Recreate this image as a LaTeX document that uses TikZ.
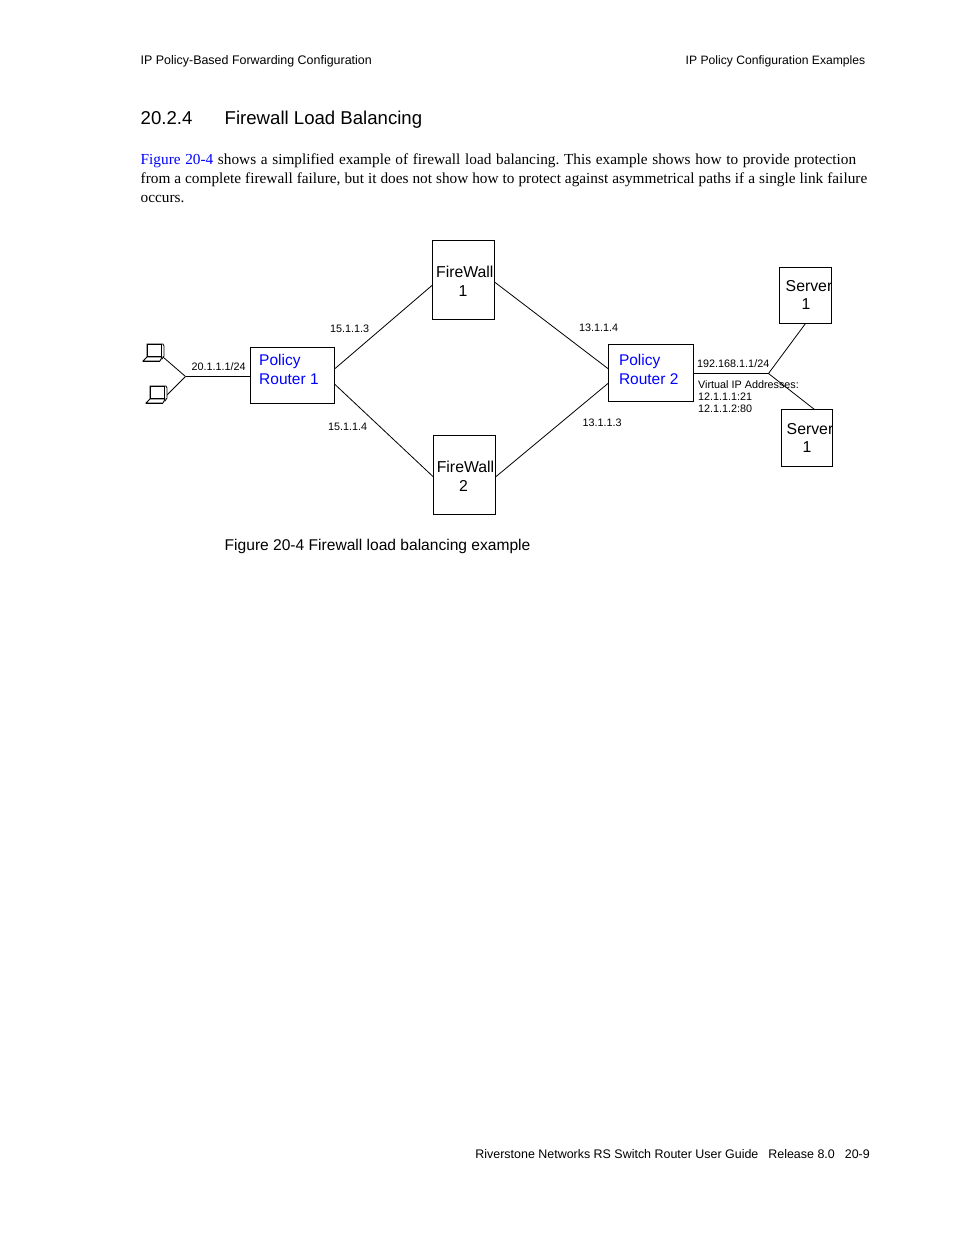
\documentclass[tikz,border=0pt]{standalone}
\usepackage{fontspec}
\setmainfont{Liberation Sans}
\newfontfamily\bodyfont{Liberation Serif}
\definecolor{linkblue}{RGB}{0,0,255}
\newcommand{\px}[1]{\fontsize{#1}{#1}\selectfont}
\tikzset{
  x=1pt,y=-1pt,
  hdr/.style={anchor=base west,inner sep=0,font=\px{12.45}},
  para/.style={anchor=base west,inner sep=0,font=\bodyfont\px{15.3}},
  ip/.style={anchor=base west,inner sep=0,font=\px{10.8}},
  boxn/.style={draw,line width=0.8pt,inner sep=0,outer sep=0,anchor=north west},
  boxt/.style={anchor=base,inner sep=0,font=\px{15.8}},
  boxtl/.style={anchor=base west,inner sep=0,font=\px{15.5},text=linkblue},
  wire/.style={line width=0.8pt},
  pc/.style={line width=0.8pt,fill=white}
}
\begin{document}
\frenchspacing
\begin{tikzpicture}
\useasboundingbox (0,0) rectangle (954,1235);
\fill[white] (0,0) rectangle (954,1235);
% header
\node[hdr] (h1) at (140.5,64) {IP Policy-Based Forwarding Configuration};
\node[hdr,anchor=base east,font=\px{12.15}] (h2) at (865.5,64) {IP Policy Configuration Examples};
\node[anchor=base west,inner sep=0,font=\px{18.6}] (s1) at (140.5,124) {20.2.4};
\node[anchor=base west,inner sep=0,font=\px{18.6}] (s2) at (224.5,124) {Firewall Load Balancing};
% paragraph
\node[para] (p1) at (140.5,164) {\makebox[715.5pt][s]{\textcolor{linkblue}{Figure 20-4} shows a simplified example of firewall load balancing. This example shows how to provide protection}};
\node[para] (p2) at (140.5,183) {\makebox[726.5pt][s]{from a complete firewall failure, but it does not show how to protect against asymmetrical paths if a single link failure}};
\node[para] (p3) at (140.5,202) {occurs.};
% boxes
\node[boxn,minimum width=62pt,minimum height=79pt] (fw1) at (432.5,240.5) {};
\node[boxn,minimum width=62pt,minimum height=79pt] (fw2) at (433.5,435.5) {};
\node[boxn,minimum width=84pt,minimum height=56pt] (pr1) at (250.5,347.5) {};
\node[boxn,minimum width=85pt,minimum height=57pt] (pr2) at (608.5,344.5) {};
\node[boxn,minimum width=52pt,minimum height=56pt] (sv1) at (779.5,267.5) {};
\node[boxn,minimum width=51pt,minimum height=57pt] (sv2) at (781.5,409.5) {};
% box text
\node[boxt] (t1a) at (464.8,277) {FireWall};
\node[boxt] (t1b) at (463,296) {1};
\node[boxt] (t2a) at (465.5,472) {FireWall};
\node[boxt] (t2b) at (463.5,491) {2};
\node[boxt] (t3a) at (809,291) {Server};
\node[boxt] (t3b) at (806,309) {1};
\node[boxt] (t4a) at (810,434) {Server};
\node[boxt] (t4b) at (807,452) {1};
\node[boxtl] (r1a) at (259,365) {Policy};
\node[boxtl] (r1b) at (259,384) {Router 1};
\node[boxtl] (r2a) at (618.8,365) {Policy};
\node[boxtl] (r2b) at (618.8,384) {Router 2};
% junctions
\coordinate (jl) at (185.5,376.5);
\coordinate (jr) at (768.5,373.5);
\coordinate (pr1w) at (250.5,376.5);
\coordinate (pr2e) at (693,373.5);
\coordinate (pc1c) at (163,357);
\coordinate (pc2c) at (165,397);
\coordinate (sv1c) at (805.5,323.5);
\coordinate (sv2c) at (814.5,409.5);
\coordinate (a1) at (334.5,369);
\coordinate (a2) at (334.5,384);
\coordinate (f1l) at (432.5,285);
\coordinate (f2l) at (433.5,477);
\coordinate (f1r) at (494.5,282);
\coordinate (f2r) at (495.5,477);
\coordinate (b1) at (608.5,369);
\coordinate (b2) at (608.5,383);
% wires
\draw[wire] (pc1c) -- (jl);
\draw[wire] (pc2c) -- (jl);
\draw[wire] (jl) -- (pr1w);
\draw[wire] (pr2e) -- (jr);
\draw[wire] (jr) -- (sv1c);
\draw[wire] (jr) -- (sv2c);
\draw[wire] (a1) -- (f1l);
\draw[wire] (a2) -- (f2l);
\draw[wire] (f1r) -- (b1);
\draw[wire] (f2r) -- (b2);
% laptops
\foreach \ox/\oy in {143/343,146/385}{
  \begin{scope}[shift={(\ox,\oy)}]
    \draw[pc] (4,1) -- (20,1) -- (21,3) -- (21,13) -- (19,16) -- (4,16) -- cycle;
    \draw[pc] (4,1) rectangle (18,13.5);
    \draw[pc] (4,14) -- (19,14) -- (17,18) -- (0,18) -- cycle;
    \draw[line width=1pt] (0,18.5) -- (17,18.5);
  \end{scope}
}
% ip labels
\node[ip] (l1) at (191.5,370) {20.1.1.1/24};
\node[ip] (l2) at (330,332) {15.1.1.3};
\node[ip] (l3) at (328,430) {15.1.1.4};
\node[ip] (l4) at (579,331) {13.1.1.4};
\node[ip] (l5) at (582.5,426) {13.1.1.3};
\node[ip] (l6) at (697,367) {192.168.1.1/24};
\node[ip] (l7) at (698,388) {Virtual IP Addresses:};
\node[ip] (l8) at (698,400) {12.1.1.1:21};
\node[ip] (l9) at (698,412) {12.1.1.2:80};
% caption and footer
\node[anchor=base west,inner sep=0,font=\px{15.58}] (cap) at (224.5,550) {Figure 20-4 Firewall load balancing example};
\node[hdr,anchor=base east] (ft) at (870,1158) {Riverstone Networks RS Switch Router User Guide\hspace{10pt}Release 8.0\hspace{10pt}20-9};
\end{tikzpicture}
\end{document}
